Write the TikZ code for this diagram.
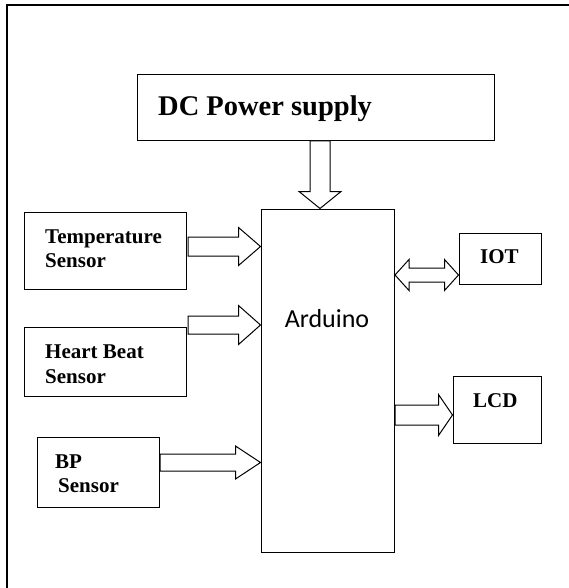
\documentclass[tikz,border=0pt]{standalone}
\usepackage{fontspec}
\setmainfont{Liberation Serif}
\newfontfamily\ardfont{Carlito}
\usetikzlibrary{calc}
\tikzset{
  box/.style={draw=black, line width=1pt, inner sep=0pt, fill=white},
  lbl/.style={inner sep=0pt, anchor=base west, font=\bfseries\fontsize{21}{25}\selectfont},
  blk/.style={draw=black, line width=1pt, fill=white, line join=miter},
}
\newcommand{\blockR}[5]{%
  \draw[blk] ($(#1)+(0,#3)$) -- ($(#2)+(-#5,#3)$) -- ($(#2)+(-#5,#4)$) -- (#2)
    -- ($(#2)+(-#5,-#4)$) -- ($(#2)+(-#5,-#3)$) -- ($(#1)+(0,-#3)$) -- cycle;}
\newcommand{\blockD}[5]{%
  \draw[blk] ($(#1)+(#3,0)$) -- ($(#2)+(#3,-#5)$) -- ($(#2)+(#4,-#5)$) -- (#2)
    -- ($(#2)+(-#4,-#5)$) -- ($(#2)+(-#3,-#5)$) -- ($(#1)+(-#3,0)$) -- cycle;}
\newcommand{\blockLR}[5]{%
  \draw[blk] (#1) -- ($(#1)+(#5,#4)$) -- ($(#1)+(#5,#3)$) -- ($(#2)+(-#5,#3)$)
    -- ($(#2)+(-#5,#4)$) -- (#2) -- ($(#2)+(-#5,-#4)$) -- ($(#2)+(-#5,-#3)$)
    -- ($(#1)+(#5,-#3)$) -- ($(#1)+(#5,-#4)$) -- cycle;}
\begin{document}
\begin{tikzpicture}[x=1pt,y=-1pt]
\useasboundingbox (0,0) rectangle (568,588);
% outer frame (only top and left edges visible)
\draw[line width=1.3pt] (7,600) -- (7,5) -- (600,5);

% boxes
\node[box, minimum width=357pt, minimum height=66pt] (dc) at (315.5,108) {};
\node[box, minimum width=133pt, minimum height=343pt] (ard) at (327.5,380.5) {};
\node[box, minimum width=162pt, minimum height=77pt] (temp) at (105,250.5) {};
\node[box, minimum width=162pt, minimum height=69pt] (heart) at (105,361.5) {};
\node[box, minimum width=122pt, minimum height=70pt] (bp) at (98,472) {};
\node[box, minimum width=82pt, minimum height=51pt] (iot) at (500,258.5) {};
\node[box, minimum width=88pt, minimum height=67pt] (lcd) at (497,409.5) {};

% texts
\node[inner sep=0pt, anchor=base west, font=\bfseries\fontsize{28.5}{32}\selectfont] (dct) at (158,116) {DC Power supply};
\node[inner sep=0pt, anchor=base, font=\ardfont\fontsize{26}{30}\selectfont] (ardt) at (327,327) {Arduino};
\node[lbl] (tt1) at (45,243) {Temperature};
\node[lbl] (tt2) at (45,267) {Sensor};
\node[lbl] (ht1) at (45,358) {Heart Beat};
\node[lbl] (ht2) at (45,383) {Sensor};
\node[lbl] (bt1) at (55,468) {BP};
\node[lbl] (bt2) at (58,492) {Sensor};
\node[lbl] (it) at (480,263) {IOT};
\node[lbl] (lt) at (473,407) {LCD};

% arrow anchor coordinates
\coordinate (dcs) at (320,141);
\coordinate (dce) at (dcs |- ard.north);
\coordinate (tas) at (188,246.5);
\coordinate (tae) at (ard.west |- tas);
\coordinate (has) at (188,325);
\coordinate (hae) at (ard.west |- has);
\coordinate (bas) at (160,462.5);
\coordinate (bae) at (ard.west |- bas);
\coordinate (ias) at (395,275);
\coordinate (iae) at (iot.west |- ias);
\coordinate (las) at (395,415);
\coordinate (lae) at (lcd.west |- las);

% block arrows
\blockD{dcs}{dce}{10}{21}{17}
\blockR{tas}{tae}{9.5}{19}{22}
\blockR{has}{hae}{9}{19.5}{22}
\blockR{bas}{bae}{8.5}{16.5}{25}
\blockLR{ias}{iae}{7}{15.5}{14}
\blockR{las}{lae}{10}{20.5}{14}
\end{tikzpicture}
\end{document}
